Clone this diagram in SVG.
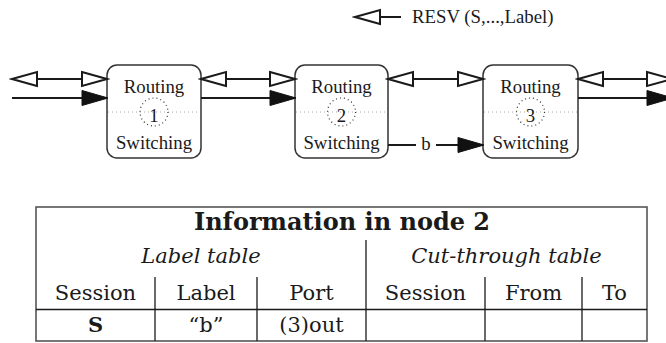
<svg xmlns="http://www.w3.org/2000/svg" width="666" height="343" viewBox="0 0 666 343">
<style>
.box{fill:#fff;stroke:#333;stroke-width:1.5}
.mid{stroke:#aaa;stroke-width:1;stroke-dasharray:1 3}
.circ{fill:none;stroke:#333;stroke-width:1.2;stroke-dasharray:1 3}
.t{font-family:"Liberation Serif","Times New Roman",serif;font-size:18.8px;fill:#1a1a1a;text-anchor:middle}
.ln{stroke:#1a1a1a;stroke-width:2;fill:none}
.dbl{marker-start:url(#open);marker-end:url(#open)}
.fil{marker-end:url(#filled)}
.tb{stroke:#1a1a1a;stroke-width:1.3;fill:none}
.tbo{stroke:#555;stroke-width:1.6;fill:none}
.c{font-family:"DejaVu Serif",serif;font-size:21px;fill:#1a1a1a;text-anchor:middle}
.b{font-weight:bold}
.i{font-style:italic}
</style>
<defs>
<marker id="open" markerUnits="userSpaceOnUse" markerWidth="30" markerHeight="20" viewBox="-2 -9 30 18" refX="25" refY="0" orient="auto-start-reverse">
<path d="M0,-7 L25,0 L0,7 Z" fill="#fff" stroke="#1a1a1a" stroke-width="2" stroke-linejoin="miter"/>
</marker>
<marker id="filled" markerUnits="userSpaceOnUse" markerWidth="30" markerHeight="20" viewBox="-2 -9 30 18" refX="25" refY="0" orient="auto">
<path d="M0,-7.5 L26,0 L0,7.5 Z" fill="#111" stroke="#111" stroke-width="1"/>
</marker>
</defs>

<g id="legend">
<line class="ln" x1="401" y1="17" x2="355" y2="17" marker-end="url(#open)"/>
<text class="t" x="412" y="23" style="text-anchor:start">RESV (S,...,Label)</text>
</g>

<g id="node1">
<rect class="box" x="107" y="65" width="94" height="93" rx="10"/>
<line class="mid" x1="108" y1="112" x2="200" y2="112"/>
<circle class="circ" cx="154" cy="112" r="14"/>
<text class="t" x="154" y="93">Routing</text>
<text class="t" x="154" y="121.5">1</text>
<text class="t" x="154" y="149">Switching</text>
</g>
<g id="node2">
<rect class="box" x="295" y="65" width="93" height="93" rx="10"/>
<line class="mid" x1="296" y1="112" x2="387" y2="112"/>
<circle class="circ" cx="341.5" cy="112" r="14"/>
<text class="t" x="341.5" y="93">Routing</text>
<text class="t" x="341.5" y="121.5">2</text>
<text class="t" x="341.5" y="149">Switching</text>
</g>
<g id="node3">
<rect class="box" x="483" y="65" width="95" height="93" rx="10"/>
<line class="mid" x1="484" y1="112" x2="577" y2="112"/>
<circle class="circ" cx="530.5" cy="112" r="14"/>
<text class="t" x="530.5" y="93">Routing</text>
<text class="t" x="530.5" y="121.5">3</text>
<text class="t" x="530.5" y="149">Switching</text>
</g>

<g id="connectors">
<line class="ln dbl" x1="12" y1="79" x2="107" y2="79"/>
<line class="ln fil" x1="12" y1="98" x2="107" y2="98"/>
<line class="ln dbl" x1="201" y1="79" x2="295" y2="79"/>
<line class="ln fil" x1="201" y1="98" x2="295" y2="98"/>
<line class="ln dbl" x1="388" y1="79" x2="483" y2="79"/>
<line class="ln" x1="388" y1="145" x2="416" y2="145"/>
<text class="t" x="426" y="150">b</text>
<line class="ln fil" x1="436" y1="145" x2="483" y2="145"/>
<line class="ln dbl" x1="578" y1="79" x2="672" y2="79"/>
<line class="ln fil" x1="578" y1="98" x2="672" y2="98"/>
</g>

<g id="table">
<rect class="tbo" x="36" y="207" width="611" height="134"/>
<line class="tb" x1="366" y1="240" x2="366" y2="341"/>
<line class="tb" x1="155" y1="277" x2="155" y2="341"/>
<line class="tb" x1="257" y1="277" x2="257" y2="341"/>
<line class="tb" x1="485" y1="277" x2="485" y2="341"/>
<line class="tb" x1="582" y1="277" x2="582" y2="341"/>
<line class="tb" x1="36" y1="309.5" x2="647" y2="309.5"/>
<text class="c b" x="342" y="230" style="font-size:24px">Information in node 2</text>
<text class="c i" x="201" y="263">Label table</text>
<text class="c i" x="506.5" y="263">Cut-through table</text>
<text class="c" x="95.5" y="300">Session</text>
<text class="c" x="206" y="300">Label</text>
<text class="c" x="311.5" y="300">Port</text>
<text class="c" x="425.5" y="300">Session</text>
<text class="c" x="533.5" y="300">From</text>
<text class="c" x="614.5" y="300">To</text>
<text class="c b" x="95.5" y="332">S</text>
<text class="c" x="206" y="332">“b”</text>
<text class="c" x="311.5" y="332">(3)out</text>
</g>
</svg>
